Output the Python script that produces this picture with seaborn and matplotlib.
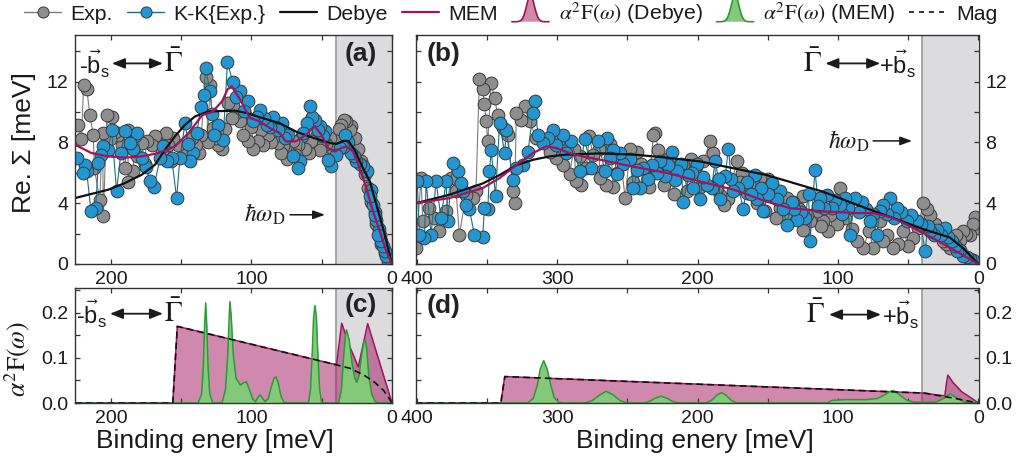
import numpy as np
import matplotlib
matplotlib.use("Agg")
import matplotlib.pyplot as plt
import seaborn as sns
from matplotlib.lines import Line2D
from matplotlib.patches import Polygon
from matplotlib.legend_handler import HandlerBase
from matplotlib.ticker import MultipleLocator, FormatStrFormatter

# ---------------- self-energy, -b_s side (panel a) ----------------
# points are sorted by energy when drawn, so the order here is free
a_exp_x = [223.3, 219.5, 217.2, 215.0, 212.6, 211.8, 208.0, 205.4, 203.0, 199.6, 197.2, 194.8,
           192.5, 190.0, 187.7, 184.2, 181.8, 178.2, 174.7, 171.1, 167.6, 164.0, 159.3, 155.8,
           152.2, 147.5, 142.6, 139.3, 135.8, 132.3, 129.6, 127.3, 123.6, 121.2, 118.9, 116.5,
           112.9, 110.5, 108.2, 105.8, 102.3, 98.6, 95.1, 91.6, 88.0, 84.5, 80.9, 77.4, 73.9,
           70.3, 66.8, 62.0, 57.3, 53.7, 49.0, 44.3, 39.6, 36.0, 32.5, 28.9, 26.6, 24.2, 21.8,
           19.5, 17.0, 14.7, 12.3, 11.1, 8.7, 7.6, 5.2, 2.9,
           221.0, 206.0, 201.0, 188.0, 183.0, 176.0, 169.0, 161.0, 157.0, 145.0, 137.0, 131.0,
           125.0, 114.0, 107.0, 100.0, 93.0, 86.0, 79.0, 75.0, 68.0, 64.0, 59.0, 51.0, 47.0,
           42.0, 38.0, 34.0, 30.0]
a_exp_y = [9.17, 11.80, 11.50, 9.80, 8.50, 6.30, 4.20, 3.13, 9.80, 9.70, 8.70, 8.50,
           7.80, 6.30, 5.40, 6.10, 7.10, 7.96, 8.07, 7.85, 8.07, 7.40, 7.85, 8.30,
           7.85, 7.20, 8.30, 7.85, 8.50, 12.30, 11.80, 8.94, 7.85, 7.60, 8.90, 10.60,
           10.40, 10.00, 9.38, 8.50, 8.07, 7.60, 8.07, 7.85, 8.50, 8.30, 7.96, 7.74, 7.40,
           8.07, 7.85, 7.60, 8.07, 8.50, 8.07, 8.30, 8.07, 9.17, 9.38, 9.06, 8.30, 7.60, 6.75,
           5.90, 5.00, 4.10, 3.40, 2.60, 1.93, 1.30, 0.75, 0.30,
           8.20, 8.60, 8.20, 8.80, 8.40, 6.60, 8.40, 8.60, 6.80, 7.60, 7.30, 8.00,
           8.30, 9.60, 9.80, 9.00, 8.80, 8.00, 7.30, 6.90, 7.20, 8.40, 7.30, 7.50, 7.90,
           7.60, 8.90, 9.50, 8.80]

a_kk_x = [224.0, 218.5, 217.3, 214.2, 210.9, 209.0, 205.4, 202.0, 199.5, 196.0, 190.0, 186.5,
          181.8, 178.2, 172.3, 169.4, 162.8, 156.8, 153.3, 150.9, 147.3, 143.8, 141.4, 136.0,
          132.6, 129.6, 126.5, 123.6, 120.2, 117.1, 113.5, 108.2, 102.3, 98.6, 94.0, 89.3,
          84.5, 78.6, 73.9, 70.3, 66.8, 65.6, 60.8, 58.5, 54.9, 51.4, 47.8, 45.5, 43.1, 37.2,
          33.6, 28.9, 25.3, 20.6, 18.0, 16.0, 13.5, 11.1, 10.0, 7.6, 5.2, 2.9,
          220.0, 207.0, 193.0, 184.0, 175.0, 165.0, 160.0, 145.0, 139.0, 134.0, 128.0, 111.0,
          105.0, 96.0, 91.0, 87.0, 81.0, 76.0, 63.0, 57.0, 53.0, 49.0, 40.0, 35.0, 31.0,
          27.0, 23.0, 15.0, 12.0, 9.0, 6.4, 4.0]
a_kk_y = [7.00, 6.53, 6.10, 3.46, 3.68, 6.64, 7.74, 7.52, 8.80, 4.78, 8.73, 7.96,
          8.60, 6.97, 5.43, 5.10, 7.74, 6.97, 4.34, 6.97, 9.28, 6.75, 7.30, 10.30,
          12.90, 11.36, 8.51, 9.17, 8.18, 13.30, 12.00, 11.36, 10.70, 9.38, 10.15, 9.17,
          9.70, 9.27, 8.51, 7.08, 6.30, 6.75, 9.27, 10.37, 9.50, 9.06, 8.73, 6.86, 6.42, 7.63,
          8.51, 7.30, 6.75, 6.42, 6.10, 4.45, 3.90, 2.90, 1.93, 1.50, 0.83, 0.17,
          6.00, 7.20, 7.30, 7.60, 6.40, 7.00, 6.80, 7.90, 8.60, 11.10, 9.90, 11.00,
          10.10, 9.70, 9.60, 9.00, 8.80, 8.30, 8.60, 9.70, 8.80, 8.40, 7.20, 7.70, 8.00,
          7.10, 6.60, 4.90, 3.20, 2.30, 1.20, 0.50]

a_debye_x = [225.6, 201.9, 190.0, 178.2, 168.7, 161.6, 154.5, 147.3, 140.2, 130.7, 111.7, 104.0,
             92.0, 80.0, 68.0, 56.0, 44.0, 39.6, 34.6, 31.0, 26.6, 20.6, 15.8, 11.1, 6.4, 0.0]
a_debye_y = [4.34, 4.89, 5.33, 5.87, 6.53, 7.52, 8.40, 9.16, 9.71, 10.04, 10.09, 9.95,
             9.60, 9.27, 8.70, 8.30, 7.96, 7.90, 8.10, 8.10, 7.50, 6.30, 5.45, 3.90, 2.37, 0.0]

a_mem_x = [225.6, 213.8, 202.0, 190.0, 178.2, 166.3, 154.5, 145.0, 135.0, 128.0, 121.0, 117.0,
           114.1, 108.0, 101.0, 94.0, 87.0, 80.0, 75.6, 68.4, 61.2, 54.9, 50.2, 45.5, 40.8,
           36.0, 32.4, 27.7, 23.0, 18.2, 13.5, 8.7, 4.0, 0.0]
a_mem_y = [7.85, 7.30, 7.08, 7.00, 7.08, 7.30, 7.74, 8.60, 9.80, 10.00, 10.70, 11.50,
           11.70, 10.80, 9.60, 9.38, 8.95, 8.62, 8.07, 8.07, 8.50, 9.06, 8.50, 7.63, 7.40,
           7.63, 7.74, 7.40, 6.30, 5.00, 3.46, 2.15, 0.83, 0.0]

# ---------------- self-energy, +b_s side (panel b) ----------------
b_exp_x = [400.4, 396.8, 395.6, 390.9, 387.3, 383.8, 379.0, 375.5, 371.9, 369.5, 364.8, 360.0,
           357.7, 355.3, 352.9, 351.7, 350.5, 349.3, 346.9, 344.5, 342.2, 338.6, 335.0, 331.4,
           330.2, 329.0, 325.5, 323.1, 319.6, 314.8, 310.0, 305.3, 300.5, 298.0, 295.8, 291.1,
           288.0, 286.3, 282.8, 279.2, 277.0, 274.5, 269.7, 268.2, 265.0, 262.0, 260.0, 255.0,
           251.5, 248.0, 243.2, 240.0, 234.6, 231.4, 230.2, 227.8, 220.0, 215.0, 210.0, 207.7,
           202.0, 195.8, 191.0, 188.7, 183.9, 181.5, 172.1, 168.0, 164.9, 160.0, 155.4, 150.0,
           148.3, 145.0, 141.2, 136.5, 131.8, 125.0, 124.7, 119.9, 115.2, 110.4, 105.6, 98.6,
           86.7, 82.0, 74.9, 70.2, 65.4, 60.7, 53.6, 46.5, 39.4, 34.7, 31.1, 25.2, 20.5,
           15.7, 11.0, 6.2, 2.6, 0.2,
           296.0, 284.0, 270.0, 257.0, 246.0, 237.0, 224.0, 217.0, 205.0, 198.0, 186.0, 178.0,
           170.0, 158.0, 152.0, 144.0, 138.0, 128.0, 122.0, 112.0, 107.0, 101.0, 95.0, 90.0,
           78.0, 68.0, 57.0, 50.0, 43.0, 37.0, 28.0, 23.0, 18.0, 13.0, 9.0, 4.0]
b_exp_y = [1.05, 5.65, 2.80, 3.70, 3.00, 2.15, 3.46, 5.65, 4.78, 1.93, 4.56, 4.34,
           4.80, 12.20, 11.50, 10.50, 9.38, 8.07, 11.90, 10.90, 9.80, 8.94, 8.50, 4.78,
           4.00, 9.94, 9.50, 10.40, 9.38, 8.30, 8.07, 7.40, 6.97, 8.20, 6.50, 5.90,
           7.60, 5.43, 5.20, 6.30, 8.40, 7.20, 5.65, 6.10, 5.20, 7.90, 5.10, 7.00,
           4.34, 7.60, 7.40, 6.60, 5.10, 8.51, 8.60, 7.50, 7.00, 6.00, 6.50, 4.80,
           6.30, 6.75, 8.07, 7.30, 4.56, 3.90, 6.75, 6.00, 4.67, 5.20, 5.65, 5.60,
           4.56, 4.90, 3.70, 4.34, 4.10, 4.50, 2.26, 2.80, 3.46, 2.80, 3.24, 5.00,
           1.50, 1.05, 1.05, 2.80, 1.93, 1.05, 2.15, 1.70, 4.00, 3.24, 2.60, 1.50, 1.05,
           1.93, 2.15, 1.93, 3.10, 2.37,
           7.80, 7.10, 7.60, 6.00, 5.40, 6.30, 5.20, 4.60, 6.90, 5.10, 5.00, 4.30,
           5.40, 4.00, 3.50, 3.00, 3.20, 3.60, 3.20, 2.50, 2.20, 2.60, 3.00, 2.30,
           2.20, 1.50, 1.30, 1.20, 2.40, 3.60, 2.00, 1.30, 1.30, 1.60, 2.00, 2.60]

b_kk_x = [399.5, 398.0, 394.4, 393.2, 389.7, 386.1, 382.6, 379.0, 377.8, 374.3, 370.7, 368.3,
          367.1, 364.8, 362.4, 358.8, 352.9, 351.7, 349.3, 348.1, 346.9, 343.8, 340.9, 337.3,
          336.1, 331.4, 329.0, 324.3, 320.7, 317.1, 316.0, 313.6, 310.0, 306.5, 302.9, 300.5,
          295.8, 293.4, 289.8, 283.9, 280.4, 275.6, 270.9, 265.8, 264.6, 259.9, 257.5, 252.7,
          245.6, 240.9, 238.5, 232.6, 226.6, 223.1, 220.7, 218.3, 214.8, 210.0, 206.5, 202.9,
          200.5, 198.2, 193.4, 187.5, 183.9, 180.3, 178.0, 174.4, 167.3, 164.9, 159.0, 157.8,
          153.1, 147.1, 143.6, 136.5, 132.9, 129.4, 123.5, 119.9, 116.4, 112.8, 108.1, 104.5,
          98.6, 95.0, 91.5, 87.9, 83.1, 77.2, 72.5, 67.7, 63.0, 58.2, 51.1, 44.0, 38.0,
          34.5, 29.7, 23.8, 19.1, 15.5, 10.8, 6.0, 2.5, 0.2,
          262.0, 255.0, 248.0, 243.0, 235.0, 229.0, 216.0, 212.0, 204.0, 196.0, 190.0, 185.0,
          176.0, 171.0, 162.0, 155.0, 150.0, 141.0, 139.0, 131.0, 126.0, 121.0, 114.0, 110.0,
          102.0, 97.0, 93.0, 85.0, 80.0, 75.0, 70.0, 65.0, 60.0, 55.0, 48.0, 41.0, 36.0,
          32.0, 27.0, 22.0, 17.0, 13.0, 8.0, 4.0]
b_kk_y = [5.43, 1.93, 1.70, 5.43, 1.93, 5.43, 3.00, 5.43, 2.80, 6.63, 6.10, 5.30,
          4.80, 3.90, 3.60, 1.93, 1.80, 3.70, 3.60, 6.10, 7.50, 4.45, 9.30, 7.30,
          8.80, 5.50, 6.30, 6.50, 7.40, 9.94, 10.70, 8.50, 7.96, 8.30, 8.80, 7.85,
          8.50, 7.30, 8.07, 6.10, 8.20, 6.30, 8.07, 6.10, 8.29, 7.50, 5.90, 6.60,
          5.00, 5.00, 6.30, 6.50, 6.75, 5.80, 6.50, 7.40, 6.10, 4.10, 5.85, 5.00,
          6.60, 4.30, 5.20, 6.75, 4.30, 5.80, 7.60, 4.80, 3.65, 5.40, 5.85, 4.30,
          3.50, 5.30, 4.30, 2.55, 4.10, 2.90, 3.00, 1.50, 6.20, 4.34, 4.56, 3.70,
          3.90, 4.34, 1.93, 4.34, 4.10, 2.80, 1.93, 3.90, 4.34, 3.70, 2.80, 2.80, 0.83,
          2.15, 2.26, 2.37, 1.50, 0.83, 0.50, 0.30, 0.15, 0.06,
          7.00, 7.30, 6.90, 6.20, 5.60, 6.00, 5.50, 6.60, 6.00, 5.70, 5.00, 5.60,
          5.60, 5.00, 4.60, 5.00, 4.60, 4.80, 3.60, 3.60, 3.40, 4.60, 3.80, 3.70,
          4.20, 3.30, 3.70, 3.40, 3.60, 3.30, 3.50, 3.30, 3.00, 3.40, 3.20, 2.60, 2.50,
          1.90, 1.90, 1.80, 1.20, 0.90, 0.45, 0.25]

b_debye_x = [400.4, 376.6, 352.9, 341.0, 329.0, 317.0, 305.3, 293.4, 281.6, 269.4, 245.6, 222.0,
             198.2, 174.4, 150.7, 134.2, 110.4, 86.7, 63.0, 39.4, 20.5, 11.0, 0.0]
b_debye_y = [4.00, 4.56, 5.30, 5.85, 6.50, 6.86, 7.08, 7.20, 7.24, 7.28, 7.20, 7.00,
             6.75, 6.30, 5.85, 5.40, 4.75, 3.90, 3.10, 2.30, 1.75, 1.05, 0.0]

b_mem_x = [400.4, 376.6, 352.9, 341.0, 329.0, 317.1, 307.7, 300.5, 291.1, 281.6, 269.4, 245.6,
           222.0, 198.2, 174.4, 150.7, 134.2, 110.4, 86.7, 74.9, 63.0, 51.0, 39.4, 27.6, 15.8, 0.0]
b_mem_y = [4.00, 4.34, 5.00, 5.65, 6.50, 7.30, 7.74, 7.63, 7.30, 7.08, 6.86, 6.40,
           6.00, 5.43, 4.90, 4.10, 3.68, 3.46, 3.35, 3.35, 3.10, 2.60, 2.04, 1.45, 0.83, 0.0]

# ---------------- Eliashberg functions, -b_s side (panel c) ----------------
c_debye_x = [225.6, 156.0, 152.8, 40.0, 39.5, 35.8, 30.0, 24.0, 17.3, 0.0]
c_debye_y = [0.0, 0.0, 0.170, 0.085, 0.085, 0.177, 0.125, 0.080, 0.176, 0.0]

c_mag_x = [225.6, 156.0, 152.8, 40.0, 30.0, 20.0, 12.0, 6.0, 2.0, 0.0]
c_mag_y = [0.0, 0.0, 0.170, 0.085, 0.077, 0.062, 0.045, 0.028, 0.010, 0.0]

c_mem_x = [225.6, 138.0, 135.5, 134.3, 133.4, 132.6, 131.8, 130.9, 129.7, 127.5, 121.0, 118.5,
           117.0, 116.0, 115.3, 114.4, 113.0, 111.0, 108.0, 105.5, 103.6, 101.5, 99.0, 97.0,
           95.5, 94.0, 92.5, 90.5, 88.0, 86.0, 84.0, 82.6, 81.0, 79.0, 77.0, 75.0, 59.5,
           58.0, 56.8, 55.8, 54.8, 53.8, 52.8, 51.5, 50.0, 38.0, 36.0, 34.5, 33.0, 32.3,
           30.5, 28.5, 26.5, 25.1, 23.5, 21.5, 19.8, 19.2, 18.0, 16.5, 14.5, 12.0, 10.0, 0.0]
c_mem_y = [0.0, 0.0, 0.020, 0.080, 0.170, 0.222, 0.170, 0.080, 0.020, 0.0, 0.0, 0.030,
           0.100, 0.180, 0.225, 0.190, 0.110, 0.055, 0.040, 0.045, 0.047, 0.030, 0.008, 0.003,
           0.012, 0.018, 0.012, 0.003, 0.010, 0.035, 0.055, 0.058, 0.045, 0.015, 0.002, 0.0, 0.0,
           0.030, 0.110, 0.190, 0.216, 0.190, 0.110, 0.030, 0.0, 0.0, 0.030, 0.100, 0.155, 0.162,
           0.140, 0.090, 0.055, 0.046, 0.060, 0.110, 0.140, 0.140, 0.120, 0.060, 0.020, 0.003, 0.0, 0.0]

# ---------------- Eliashberg functions, +b_s side (panel d) ----------------
d_debye_x = [400.4, 340.0, 337.2, 38.7, 30.0, 24.0, 22.5, 21.8, 18.0, 15.5, 12.0, 7.0, 0.0]
d_debye_y = [0.0, 0.0, 0.0586, 0.022, 0.018, 0.016, 0.050, 0.062, 0.045, 0.037, 0.025, 0.015, 0.0]

d_mag_x = [400.4, 340.0, 337.2, 38.7, 20.0, 10.0, 0.0]
d_mag_y = [0.0, 0.0, 0.0586, 0.022, 0.012, 0.006, 0.0]

d_mem_x = [400.4, 321.0, 317.0, 314.0, 312.0, 309.5, 307.0, 304.5, 302.0, 299.0, 296.0, 280.0,
           275.0, 270.0, 265.2, 260.0, 255.0, 250.0, 238.0, 234.0, 230.0, 226.0, 222.0, 218.0,
           214.0, 194.0, 190.0, 186.0, 183.0, 180.0, 176.0, 172.0, 108.0, 104.0, 95.0, 80.0,
           72.0, 67.0, 62.0, 60.0, 56.0, 51.0, 46.0, 30.0, 25.0, 20.0, 16.0, 10.0, 0.0]
d_mem_y = [0.0, 0.0, 0.010, 0.040, 0.075, 0.094, 0.075, 0.040, 0.012, 0.002, 0.0, 0.0,
           0.005, 0.017, 0.026, 0.018, 0.005, 0.0, 0.0, 0.004, 0.011, 0.015, 0.011, 0.004,
           0.0, 0.0, 0.006, 0.018, 0.023, 0.018, 0.006, 0.0, 0.0, 0.006, 0.0075, 0.0075,
           0.010, 0.018, 0.027, 0.027, 0.018, 0.006, 0.002, 0.002, 0.010, 0.020, 0.012, 0.002, 0.0]

debye_energy = 40.0  # hbar*omega_D, meV

# ---------------- styling ----------------
sns.set_theme(style="ticks")
plt.rcParams["font.family"] = ["Liberation Sans", "DejaVu Sans"]
plt.rcParams["mathtext.fontset"] = "stix"
plt.rcParams["axes.edgecolor"] = "#333333"
plt.rcParams["axes.linewidth"] = 1.0

GREY_FACE = "#8e8e8e"
GREY_LINE = "#7d7d7d"
BLUE_FACE = "#2396d2"
BLUE_LINE = "#1b6e7e"
EDGE = "#3a3a3a"
MEM_C = "#a0145a"
DEB_FILL = "#a0145a"
GRN_FILL = "#84c97a"
GRN_EDGE = "#2a9a3a"
SHADE = "#dcdcdf"
SHADE_EDGE = "#9a9a9a"
TXT = "#1a1a1a"

W, H = 1023, 465
fig = plt.figure(figsize=(W / 100, H / 100), dpi=100)


def box(l, r, t, b):
    return [l / W, 1 - b / H, (r - l) / W, (b - t) / H]


ax_a = fig.add_axes(box(75, 392, 35, 264))
ax_b = fig.add_axes(box(416, 978.5, 35, 264))
ax_c = fig.add_axes(box(75, 392, 288, 403))
ax_d = fig.add_axes(box(416, 978.5, 288, 403))


def style_axis(ax, xmax, ylim, ymaj, ymin, right_labels):
    ax.set_xlim(xmax, 0)
    ax.set_ylim(*ylim)
    ax.xaxis.set_major_locator(MultipleLocator(100))
    ax.xaxis.set_minor_locator(MultipleLocator(50))
    ax.yaxis.set_major_locator(MultipleLocator(ymaj))
    ax.yaxis.set_minor_locator(MultipleLocator(ymin))
    ax.tick_params(which="both", direction="in", top=True, right=True, bottom=True, left=True,
                   length=3.6, width=0.9, color="#333333", labelsize=14, pad=5,
                   labelcolor=TXT)
    if right_labels:
        ax.tick_params(labelleft=False, labelright=True)
    ax.axvspan(0, debye_energy, color=SHADE, zorder=0, lw=0)
    ax.axvline(debye_energy, color=SHADE_EDGE, lw=1.2, zorder=0.5)
    for s in ax.spines.values():
        s.set_zorder(10)


style_axis(ax_a, 225.6, (0, 15.07), 4, 2, False)
style_axis(ax_b, 400.4, (0, 15.07), 4, 2, True)
style_axis(ax_c, 225.6, (0, 0.255), 0.1, 0.05, False)
style_axis(ax_d, 400.4, (0, 0.255), 0.1, 0.05, True)
ax_c.yaxis.set_major_formatter(FormatStrFormatter("%.1f"))
ax_d.yaxis.set_major_formatter(FormatStrFormatter("%.1f"))


def sigma_panel(ax, ex, ey, kx, ky, dx, dy, mx, my):
    sns.lineplot(x=np.array(ex), y=np.array(ey), ax=ax, estimator=None, sort=True,
                 color=GREY_LINE, lw=0.8, marker="o", ms=9.2, mfc=GREY_FACE, mec=EDGE,
                 mew=0.7, zorder=2)
    sns.lineplot(x=np.array(kx), y=np.array(ky), ax=ax, estimator=None, sort=True,
                 color=BLUE_LINE, lw=0.8, marker="o", ms=9.2, mfc=BLUE_FACE, mec=EDGE,
                 mew=0.7, zorder=3)
    sns.lineplot(x=np.array(dx), y=np.array(dy), ax=ax, estimator=None, sort=False,
                 color="#111111", lw=1.6, zorder=5)
    sns.lineplot(x=np.array(mx), y=np.array(my), ax=ax, estimator=None, sort=False,
                 color=MEM_C, lw=1.6, zorder=6)


sigma_panel(ax_a, a_exp_x, a_exp_y, a_kk_x, a_kk_y, a_debye_x, a_debye_y, a_mem_x, a_mem_y)
sigma_panel(ax_b, b_exp_x, b_exp_y, b_kk_x, b_kk_y, b_debye_x, b_debye_y, b_mem_x, b_mem_y)


def a2f_panel(ax, dx, dy, gx, gy, mx, my):
    ax.fill_between(dx, dy, 0, color=DEB_FILL, alpha=0.5, lw=0, zorder=1)
    sns.lineplot(x=np.array(dx), y=np.array(dy), ax=ax, estimator=None, sort=False,
                 color=MEM_C, lw=1.1, zorder=2)
    ax.fill_between(gx, gy, 0, color=GRN_FILL, lw=0, zorder=3)
    sns.lineplot(x=np.array(gx), y=np.array(gy), ax=ax, estimator=None, sort=False,
                 color=GRN_EDGE, lw=1.1, zorder=4)
    sns.lineplot(x=np.array(mx), y=np.array(my), ax=ax, estimator=None, sort=False,
                 color="#111111", lw=1.2, dashes=False, linestyle=(0, (4, 2.5)), zorder=5)


a2f_panel(ax_c, c_debye_x, c_debye_y, c_mem_x, c_mem_y, c_mag_x, c_mag_y)
a2f_panel(ax_d, d_debye_x, d_debye_y, d_mem_x, d_mem_y, d_mag_x, d_mag_y)

for ax in (ax_a, ax_b, ax_c, ax_d):
    ax.set_xlabel("")
    ax.set_ylabel("")

# axis titles
ax_a.set_ylabel("Re. \u03A3 [meV]", fontsize=19, color=TXT)
ax_a.yaxis.set_label_coords(-0.122, 0.53)
ax_c.set_ylabel(r"$\alpha^2\mathrm{F}(\omega)$", fontsize=18.5, color=TXT)
ax_c.yaxis.set_label_coords(-0.137, 0.38)
ax_c.set_xlabel("Binding enery [meV]", fontsize=19, color=TXT)
ax_c.xaxis.set_label_coords(0.44, -0.23)
ax_d.set_xlabel("Binding enery [meV]", fontsize=19, color=TXT)
ax_d.xaxis.set_label_coords(0.495, -0.23)

arrow2 = dict(arrowstyle="<|-|>,head_length=0.55,head_width=0.22", color=TXT, lw=1.3,
              mutation_scale=14, shrinkA=0, shrinkB=0)
arrow1 = dict(arrowstyle="-|>,head_length=0.55,head_width=0.2", color=TXT, lw=1.1,
              mutation_scale=13, shrinkA=0, shrinkB=0)
BVEC = r"$\vec{\mathregular{b}}_{\mathregular{s}}$"


def direction_left(ax, y, xb, xa0, xa1, xg):
    ax.text(xb, y, "-" + BVEC, fontsize=17, ha="center", va="center", color=TXT, zorder=12)
    ax.annotate("", xy=(xa1, y), xytext=(xa0, y), arrowprops=arrow2, zorder=12)
    ax.text(xg, y, r"$\bar{\Gamma}$", fontsize=21, ha="center", va="center", color=TXT,
            zorder=12)


def direction_right(ax, y, xg, xa0, xa1, xb):
    ax.text(xg, y, r"$\bar{\Gamma}$", fontsize=21, ha="center", va="center", color=TXT,
            zorder=12)
    ax.annotate("", xy=(xa1, y), xytext=(xa0, y), arrowprops=arrow2, zorder=12)
    ax.text(xb, y, "+" + BVEC, fontsize=17, ha="center", va="center", color=TXT, zorder=12)


direction_left(ax_a, 13.2, 212, 199.3, 163, 155.8)
direction_right(ax_b, 13.2, 118.5, 109, 70, 57.5)
direction_left(ax_c, 0.198, 214, 200.7, 163, 155.8)
direction_right(ax_d, 0.196, 116, 106.4, 69.4, 55.6)

for ax, xx, yy, lab in ((ax_a, 22, 13.8, "(a)"), (ax_b, 381, 13.8, "(b)"),
                        (ax_c, 22, 0.218, "(c)"), (ax_d, 381, 0.216, "(d)")):
    ax.text(xx, yy, lab, fontsize=19, fontweight="bold", ha="center", va="center",
            color="#222222", zorder=12)

ax_a.text(76, 3.24, r"$\hbar\omega_{\mathrm{D}}$", fontsize=17, ha="right", va="center", color=TXT, zorder=12)
ax_a.annotate("", xy=(47.7, 3.24), xytext=(72.6, 3.24), arrowprops=arrow1, zorder=12)
ax_b.text(78, 8.1, r"$\hbar\omega_{\mathrm{D}}$", fontsize=17, ha="right", va="center", color=TXT, zorder=12)
ax_b.annotate("", xy=(47.3, 8.1), xytext=(75, 8.1), arrowprops=arrow1, zorder=12)


# ---------------- legend ----------------
class PeakHandler(HandlerBase):
    def __init__(self, face, edge, alpha):
        super().__init__()
        self.face, self.edge, self.alpha = face, edge, alpha

    def create_artists(self, legend, orig_handle, xdescent, ydescent, width, height,
                       fontsize, trans):
        t = np.linspace(-1, 1, 61)
        xs = -xdescent + (t + 1) / 2 * width
        ys = -ydescent - 0.15 * height + 1.75 * height * np.exp(-(t / 0.3) ** 2)
        fill = Polygon(np.column_stack([xs, ys]), closed=True, facecolor=self.face,
                       edgecolor="none", alpha=self.alpha, transform=trans)
        edge = Line2D(xs, ys, color=self.edge, lw=1.2, transform=trans)
        return [fill, edge]


h_exp = Line2D([], [], color=GREY_LINE, lw=1.0, marker="o", ms=8, mfc=GREY_FACE, mec=EDGE, mew=0.7)
h_kk = Line2D([], [], color=BLUE_LINE, lw=1.0, marker="o", ms=8, mfc=BLUE_FACE, mec=EDGE, mew=0.7)
h_deb = Line2D([], [], color="#111111", lw=1.6)
h_mem = Line2D([], [], color=MEM_C, lw=1.6)
h_a2d = Polygon([[0, 0]])
h_a2m = Polygon([[0, 0]])
h_mag = Line2D([], [], color="#111111", lw=1.2, linestyle=(0, (3, 3)))

fig.legend([h_exp, h_kk, h_deb, h_mem, h_a2d, h_a2m, h_mag],
           ["Exp.", "K-K{Exp.}", "Debye", "MEM", r"$\alpha^2\mathrm{F}(\omega)$ (Debye)",
            r"$\alpha^2\mathrm{F}(\omega)$ (MEM)", "Mag"],
           handler_map={h_a2d: PeakHandler(DEB_FILL, MEM_C, 0.5),
                        h_a2m: PeakHandler(GRN_FILL, GRN_EDGE, 1.0)},
           loc="center left", bbox_to_anchor=(24 / W, 1 - 13 / H), ncol=7, frameon=False,
           fontsize=15.3, handlelength=1.75, handletextpad=0.45, columnspacing=0.65,
           borderaxespad=0, borderpad=0, labelcolor=TXT)

fig.savefig("out.png", dpi=100)
